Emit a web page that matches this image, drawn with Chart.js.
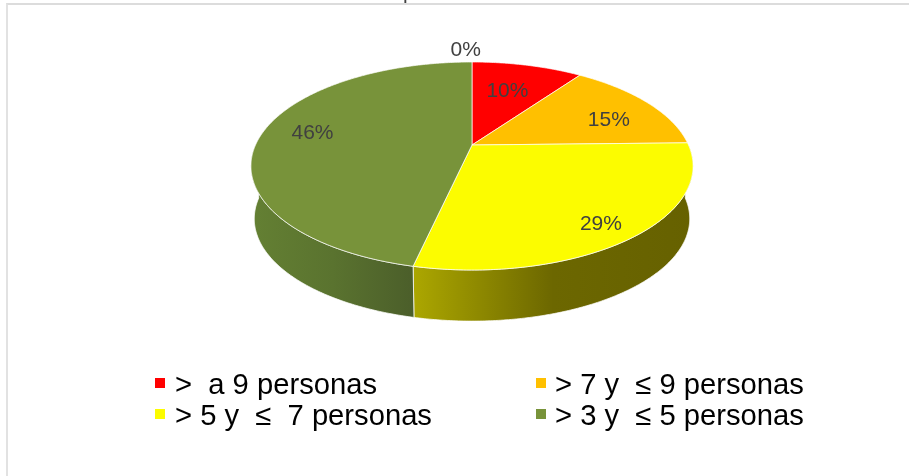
<!DOCTYPE html>
<html>
<head>
<meta charset="utf-8">
<style>
html,body{margin:0;padding:0;background:#fff;overflow:hidden}
#frame{position:absolute;left:6px;top:3px;width:903px;height:473px;box-sizing:border-box;border-top:2px solid #dcdcdc;border-left:2px solid #e2e2e2}
#c{position:absolute;left:0;top:0}
</style>
<script src="https://cdn.jsdelivr.net/npm/chart.js@4/dist/chart.umd.min.js"></script>
</head>
<body>
<div id="frame"></div>
<canvas id="c" width="909" height="476"></canvas>
<script>
const categories = [">  a 9 personas", "> 7 y  ≤ 9 personas", "> 5 y  ≤  7 personas", "> 3 y  ≤ 5 personas", ""];
const shares = [9.85, 14.8, 28.85, 46.49, 0];
const sliceColors = ["#ff0000", "#ffc000", "#fcfc00", "#78933a", "#4472c4"];
const wallStops = [null, null, ["#aca700", "#6c6700", "#666100"], ["#648033", "#5a732f", "#4b5e2a"], null];
const labelRadius = [0.646, 0.72, 0.847, 0.77, 1.18];
const labelTurn = [-1.4, 5.3, 2.1, 3.5, -1.9];

// perspective projection of the pie disc
const view = {cx: 472, cy: 145, A: 216.5, B: 99.76, k: 0.2019, depth: 53, shrink: 0.985};
function project(u, v, low) {
  const d = 1 - view.k * v, f = low ? view.shrink : 1;
  return [view.cx + f * view.A * u / d, view.cy + (low ? view.depth : 0) + f * view.B * v / d];
}
function arcPoints(a0, a1, r, low) {
  const n = Math.max(2, Math.ceil(Math.abs(a1 - a0) / 0.01)), out = [];
  for (let i = 0; i <= n; i++) {
    const a = a0 + (a1 - a0) * i / n;
    out.push(project(r * Math.cos(a), r * Math.sin(a), low));
  }
  return out;
}
function trace(ctx, pts) {
  ctx.beginPath();
  pts.forEach((p, i) => i ? ctx.lineTo(p[0], p[1]) : ctx.moveTo(p[0], p[1]));
  ctx.closePath();
}
const pie3d = {
  id: "pie3d",
  beforeDatasetsDraw(chart) {
    const ctx = chart.ctx, arcs = chart.getDatasetMeta(0).data;
    ctx.save();
    ctx.lineJoin = "round";
    arcs.forEach((arc, i) => {
      if (!wallStops[i]) return;
      const lo = Math.max(arc.startAngle, 0), hi = Math.min(arc.endAngle, Math.PI);
      const top = arcPoints(lo, hi, 1, false), bot = arcPoints(lo, hi, 1, true).reverse();
      const all = top.concat(bot), xs = all.map(p => p[0]);
      const g = ctx.createLinearGradient(Math.min(...xs), 0, Math.max(...xs), 0);
      wallStops[i].forEach((c, s) => g.addColorStop(s / (wallStops[i].length - 1), c));
      trace(ctx, all);
      ctx.fillStyle = g;
      ctx.fill();
      ctx.strokeStyle = "rgba(255,255,255,0.75)";
      ctx.lineWidth = 1;
      ctx.stroke();
    });
    arcs.forEach((arc, i) => {
      if (!shares[i]) return;
      trace(ctx, [project(0, 0, false)].concat(arcPoints(arc.startAngle, arc.endAngle, 1, false)));
      ctx.fillStyle = sliceColors[i];
      ctx.fill();
      ctx.strokeStyle = "rgba(255,255,255,0.7)";
      ctx.lineWidth = 1;
      ctx.stroke();
    });
    ctx.restore();
    return false;
  },
  afterDraw(chart) {
    const ctx = chart.ctx, arcs = chart.getDatasetMeta(0).data;
    const total = shares.reduce((a, b) => a + b, 0);
    ctx.save();
    // share labels
    ctx.font = '21px "Liberation Sans"';
    ctx.fillStyle = "#404040";
    ctx.textAlign = "center";
    ctx.textBaseline = "middle";
    arcs.forEach((arc, i) => {
      const a = (arc.startAngle + arc.endAngle) / 2 + labelTurn[i] * Math.PI / 180;
      const p = project(labelRadius[i] * Math.cos(a), labelRadius[i] * Math.sin(a), false);
      ctx.fillText(Math.round(shares[i] / total * 100) + "%", p[0] + 0.5, p[1] + (i === 4 ? 0 : 1));
    });
    // legend in two columns
    ctx.font = '29.2px "Liberation Sans"';
    ctx.textAlign = "left";
    ctx.textBaseline = "alphabetic";
    categories.forEach((t, i) => {
      if (!t) return;
      const col = i % 2, row = Math.floor(i / 2);
      const x = col ? 536 : 155, y = 378 + row * 31;
      ctx.fillStyle = sliceColors[i];
      ctx.fillRect(x, y, 10, 10);
      ctx.fillStyle = "#000000";
      ctx.fillText(t, col ? 555 : 175, y + 16);
    });
    // the clipped title at the top edge
    ctx.font = '21px "Liberation Sans"';
    ctx.fillStyle = "#404040";
    ctx.fillText("p", 403, -1);
    ctx.restore();
  }
};
new Chart(document.getElementById("c"), {
  type: "pie",
  data: {labels: categories, datasets: [{data: shares, backgroundColor: sliceColors}]},
  options: {
    responsive: false,
    animation: false,
    events: [],
    plugins: {legend: {display: false}, tooltip: {enabled: false}, title: {display: false}}
  },
  plugins: [pie3d]
});
</script>
</body>
</html>
